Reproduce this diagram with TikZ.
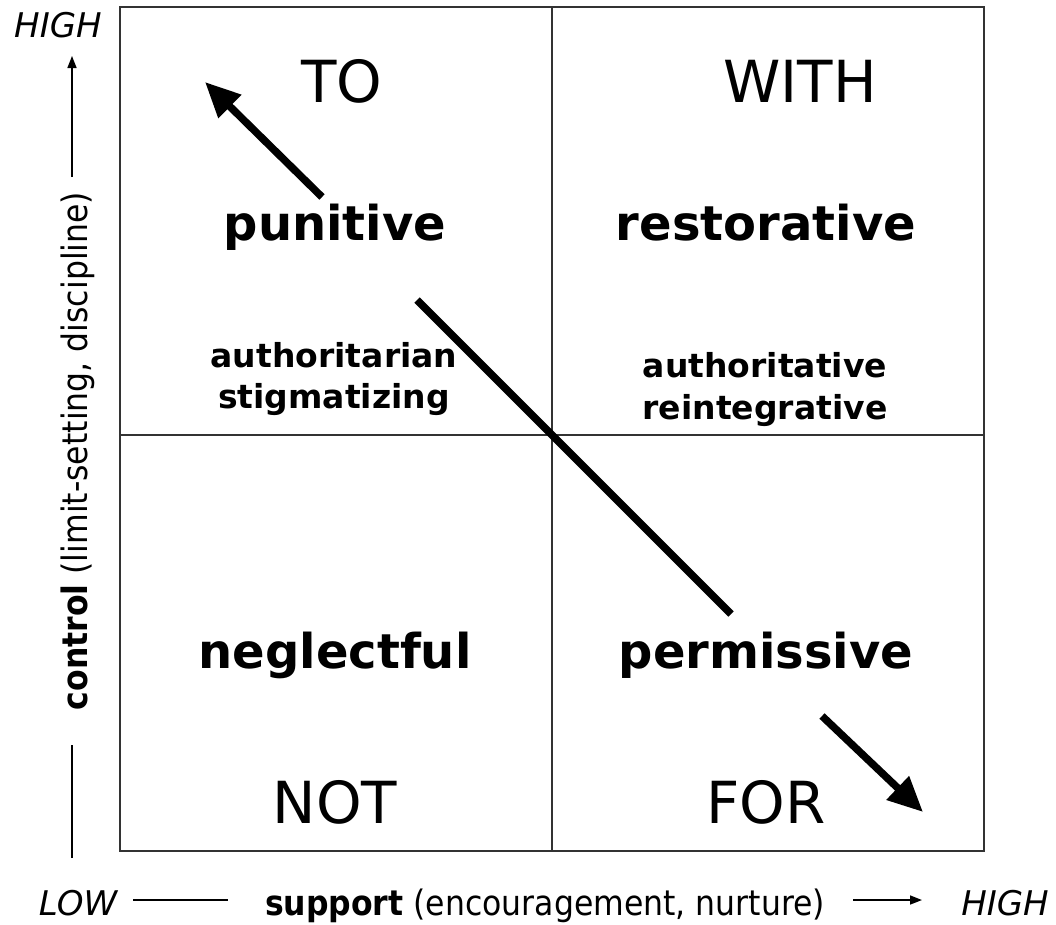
\documentclass[tikz,border=0pt]{standalone}
\usepackage{fontspec}
\usepackage{graphicx}
\setmainfont{DejaVu Sans}
\usetikzlibrary{arrows.meta}
\begin{document}
\begin{tikzpicture}[x=1pt,y=-1pt,
  big/.style={font=\fontsize{58}{60}\selectfont, anchor=base, inner sep=0pt},
  modebox/.style={font=\bfseries\fontsize{48}{50}\selectfont, anchor=base, inner sep=0pt},
  subbox/.style={font=\bfseries\fontsize{33}{35}\selectfont, anchor=base, inner sep=0pt},
  axislabel/.style={font=\fontsize{35}{37}\selectfont, anchor=base, inner sep=0pt},
  levellabel/.style={font=\itshape\fontsize{34}{36}\selectfont, anchor=base, inner sep=0pt},
  frame/.style={draw=black!80, line width=2pt},
  gridline/.style={draw=black!80, line width=1.5pt},
  heavyarrow/.style={line width=7.5pt, -{Triangle[length=35pt,width=31pt]}},
  heavyline/.style={line width=7.5pt},
  axisline/.style={line width=1.5pt},
  axisarrow/.style={line width=1.5pt, -{Triangle[length=12pt,width=9pt]}}
]
\useasboundingbox[fill=white] (0,0) rectangle (1056,924);

% frame and quadrants
\draw[frame] (120,7) rectangle (984,851);
\draw[gridline] (552,7) -- (552,851);
\draw[gridline] (120,435) -- (984,435);

% quadrant labels
\node[big] (to) at (342,102) {TO};
\node[big] (with) at (800,102) {WITH};
\node[big] (not) at (335,823) {NOT};
\node[big] (for) at (766,823) {FOR};

\node[modebox] (punitive) at (335,240) {punitive};
\node[modebox] (restorative) at (766,240) {restorative};
\node[modebox] (neglectful) at (335,668) {neglectful};
\node[modebox] (permissive) at (766,668) {permissive};

\node[subbox] (authoritarian) at (334,367) {authoritarian};
\node[subbox] (stigmatizing) at (334,408) {stigmatizing};
\node[subbox] (authoritative) at (765,377) {authoritative};
\node[subbox] (reintegrative) at (765,419) {reintegrative};

% diagonal arrows
\coordinate (ua1) at (322,197);
\coordinate (ua2) at (205,82);
\coordinate (d1) at (417,300);
\coordinate (d2) at (731,614);
\coordinate (la1) at (822,716);
\coordinate (la2) at (923,812);
\draw[heavyarrow] (ua1) -- (ua2);
\draw[heavyline] (d1) -- (d2);
\draw[heavyarrow] (la1) -- (la2);

% vertical axis
\node[levellabel] (vhigh) at (58,37) {HIGH};
\node[axislabel, rotate=90] (control) at (87,451) {\scalebox{0.9}[1]{\textbf{control} (limit-setting, discipline)}};
\coordinate (vtop) at (72,56);
\coordinate (vtopend) at (72,177);
\coordinate (vbot) at (72,858);
\coordinate (vbotend) at (72,745);
\draw[axisarrow] (vtopend) -- (vtop);
\draw[axisline] (vbot) -- (vbotend);

% horizontal axis
\node[levellabel] (low) at (78,915) {LOW};
\node[axislabel] (support) at (545,915) {\scalebox{0.9}[1]{\textbf{support} (encouragement, nurture)}};
\node[levellabel] (hhigh) at (1005,915) {HIGH};
\coordinate (hl1) at (133,900);
\coordinate (hl2) at (228,900);
\coordinate (hr1) at (853,900);
\coordinate (hr2) at (922,900);
\draw[axisline] (hl1) -- (hl2);
\draw[axisarrow] (hr1) -- (hr2);
\end{tikzpicture}
\end{document}
